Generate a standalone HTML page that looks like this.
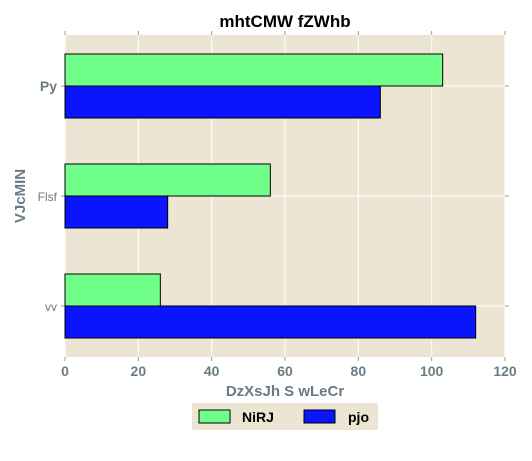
<!DOCTYPE html>
<html><head><meta charset="utf-8"><style>
body{margin:0;background:#fff;}
svg text{font-family:"Liberation Sans",sans-serif;}
</style></head><body>
<svg width="532" height="456" xmlns="http://www.w3.org/2000/svg">
<text x="285" y="27" text-anchor="middle" font-size="17" font-weight="bold" fill="#000">mhtCMW fZWhb</text>
<rect x="65" y="35" width="440" height="322" fill="#ede5d4"/>
<g id="grid"></g>
<g id="bars"></g>
<g id="ticks"></g>
<text x="285" y="396" text-anchor="middle" font-size="15" font-weight="bold" fill="#6b7b83">DzXsJh S wLeCr</text>
<text transform="translate(25,196) rotate(-90)" text-anchor="middle" font-size="15" font-weight="bold" fill="#6b7b83">VJcMIN</text>
<g>
<rect x="192" y="403" width="186" height="27" rx="2" fill="#ede5d4"/>
<rect x="199" y="410" width="31" height="13" fill="#70ff88" stroke="#000"/>
<text x="242" y="422" font-size="14" font-weight="bold">NiRJ</text>
<rect x="304" y="410" width="31" height="13" fill="#0a14ff" stroke="#000"/>
<text x="348" y="422" font-size="14" font-weight="bold">pjo</text>
</g>
</svg>
<script>
const categories=["Py","Flsf","vv"];
const seriesNiRJ=[103,56,26];
const seriesPjo=[86,28,112];
const xTicks=[0,20,40,60,80,100,120];
const NS="http://www.w3.org/2000/svg";
const x0=65,x1=505;
function xs(v){return x0+(v/120)*(x1-x0);}
function yc(i){return 86+i*110;}
const bh=32;
function mk(tag,attrs,parent){const e=document.createElementNS(NS,tag);for(const k in attrs)e.setAttribute(k,attrs[k]);document.getElementById(parent).appendChild(e);return e;}
xTicks.forEach(t=>{
  const g=mk('line',{x1:xs(t),x2:xs(t),y1:31,y2:361,stroke:'#fff','stroke-width':1},'grid');
  
  
  const m1=mk('line',{x1:xs(t),x2:xs(t),y1:31,y2:35,stroke:'#999'},'grid');
  
  
  const m2=mk('line',{x1:xs(t),x2:xs(t),y1:357,y2:361,stroke:'#999'},'grid');
  
  
  const tk=mk('text',{x:xs(t),y:376,'text-anchor':'middle','font-size':14,'font-weight':'bold',fill:'#6b7b83'},'ticks');
  tk.textContent=t;
  
  
});
categories.forEach((c,i)=>{
  const g=mk('line',{x1:x0,x2:x1,y1:yc(i),y2:yc(i),stroke:'#fff','stroke-width':1},'grid');
  
  
  const m1=mk('line',{x1:x0-4,x2:x0,y1:yc(i),y2:yc(i),stroke:'#999'},'grid');
  
  
  const m2=mk('line',{x1:x1,x2:x1+4,y1:yc(i),y2:yc(i),stroke:'#999'},'grid');
  
  
  const a=mk('rect',{x:x0,y:yc(i)-bh,width:xs(seriesNiRJ[i])-x0,height:bh,fill:'#70ff88',stroke:'#000','stroke-width':1},'bars');
  
  
  const b=mk('rect',{x:x0,y:yc(i),width:xs(seriesPjo[i])-x0,height:bh,fill:'#0a14ff',stroke:'#000','stroke-width':1},'bars');
  
  
  const tk=mk('text',{x:57,y:yc(i)+5,'text-anchor':'end','font-size':i===0?14:12,'font-weight':i===0?'bold':'normal',fill:'#6b7b83'},'ticks');
  tk.textContent=c;
  
  
});
</script>
</body></html>
